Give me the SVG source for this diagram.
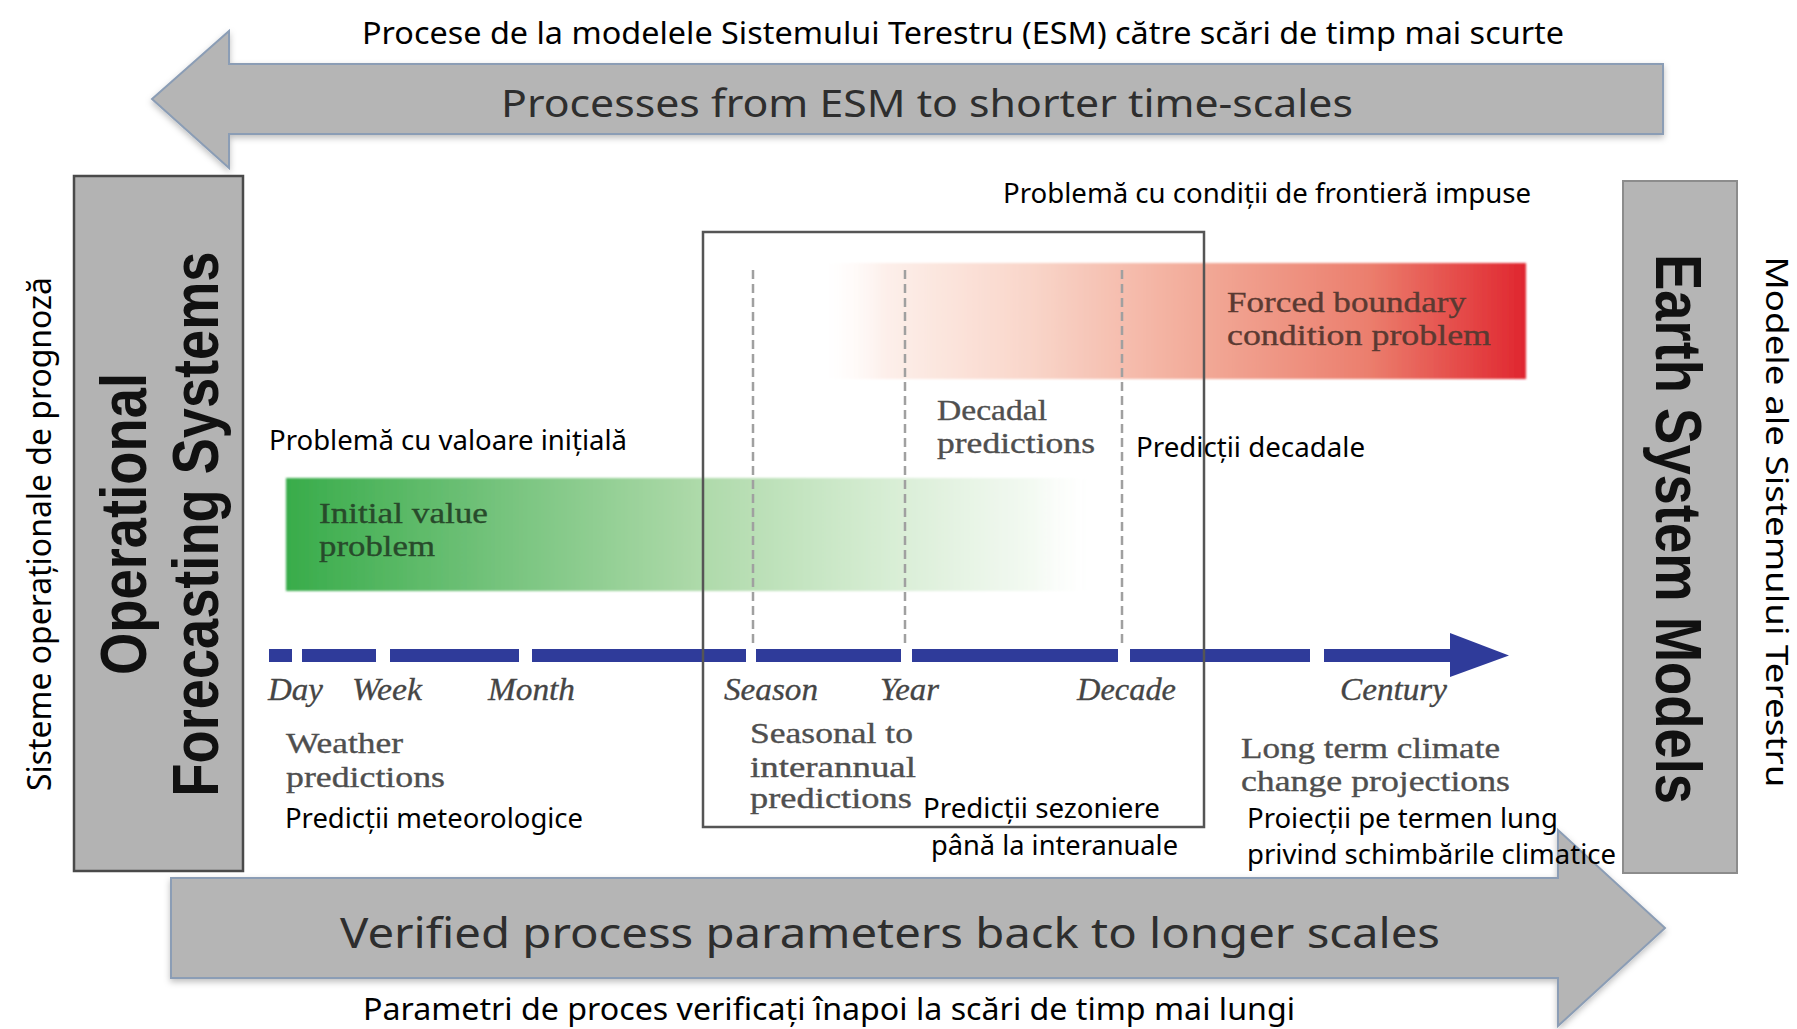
<svg xmlns="http://www.w3.org/2000/svg" width="1797" height="1029" viewBox="0 0 1797 1029">
<defs>
<style>
.ro{font-family:"Noto Sans","Open Sans",sans-serif;fill:#000;}
.en{font-family:"Liberation Serif","Times New Roman",serif;font-size:30px;fill:#4f4f4f;stroke:#4f4f4f;stroke-width:0.35;}
.it{font-family:"Liberation Serif","Times New Roman",serif;font-size:31px;font-style:italic;fill:#454545;stroke:#454545;stroke-width:0.3;}
.big{font-family:"Noto Sans","Open Sans",sans-serif;fill:#2e2e2e;}
.title{font-family:"Liberation Sans Narrow","Liberation Sans",Arial,sans-serif;font-weight:bold;font-size:64px;fill:#111;}
.seg{fill:#2f3b9a;}
.dash{stroke:#a0a0a0;stroke-width:2.5;stroke-dasharray:9 5;fill:none;}
.garrow{fill:#b5b5b5;stroke:#8b9db5;stroke-width:2;}
</style>
<linearGradient id="gGreen" gradientUnits="userSpaceOnUse" x1="286" y1="0" x2="1100" y2="0">
<stop offset="0" stop-color="#38ac4a"/>
<stop offset="0.25" stop-color="#72c27a"/>
<stop offset="0.5" stop-color="#acd9a8"/>
<stop offset="0.75" stop-color="#d9eed6"/>
<stop offset="0.92" stop-color="#f4faf3"/>
<stop offset="1" stop-color="#ffffff" stop-opacity="0"/>
</linearGradient>
<linearGradient id="gRed" gradientUnits="userSpaceOnUse" x1="815" y1="0" x2="1526" y2="0">
<stop offset="0" stop-color="#ffffff" stop-opacity="0"/>
<stop offset="0.1" stop-color="#fdefea"/>
<stop offset="0.3" stop-color="#f9d6ca"/>
<stop offset="0.55" stop-color="#f2a896"/>
<stop offset="0.78" stop-color="#eb7e6d"/>
<stop offset="1" stop-color="#e0262f"/>
</linearGradient>
<filter id="shadow" x="-5%" y="-20%" width="110%" height="150%">
<feDropShadow dx="0" dy="3" stdDeviation="3" flood-color="#000" flood-opacity="0.25"/>
</filter>
<filter id="soft" x="-2%" y="-5%" width="104%" height="110%">
<feGaussianBlur stdDeviation="1.2"/>
</filter>
</defs>
<rect x="0" y="0" width="1797" height="1029" fill="#fff"/>

<g id="connectors">
<polygon id="arrow-top" class="garrow" filter="url(#shadow)" points="152,99 229,31 229,64 1663,64 1663,134 229,134 229,168"/>
<polygon id="arrow-bottom" class="garrow" filter="url(#shadow)" points="171,878 1558,878 1558,830 1665,928 1558,1026 1558,978 171,978"/>
<g id="timeline">
<rect class="seg" x="269" y="649" width="23" height="13"/>
<rect class="seg" x="302" y="649" width="74" height="13"/>
<rect class="seg" x="390" y="649" width="129" height="13"/>
<rect class="seg" x="532" y="649" width="214" height="13"/>
<rect class="seg" x="756" y="649" width="145" height="13"/>
<rect class="seg" x="912" y="649" width="206" height="13"/>
<rect class="seg" x="1130" y="649" width="180" height="13"/>
<rect class="seg" x="1324" y="649" width="130" height="13"/>
<polygon class="seg" points="1450,633 1509,655.5 1450,677"/>
</g>
</g>

<g id="arrow-top-label">
<text class="big" x="501" y="117" font-size="38" textLength="852" lengthAdjust="spacingAndGlyphs">Processes from ESM to shorter time-scales</text>
</g>
<g id="arrow-bottom-label">
<text class="big" x="340" y="948" font-size="42" textLength="1100" lengthAdjust="spacingAndGlyphs">Verified process parameters back to longer scales</text>
</g>

<g id="left-box">
<rect x="74" y="176" width="169" height="695" fill="#b3b3b3" stroke="#4a4a4a" stroke-width="2.5"/>
<text class="title" transform="translate(146,524) rotate(-90)" text-anchor="middle" textLength="302" lengthAdjust="spacingAndGlyphs">Operational</text>
<text class="title" transform="translate(218,524) rotate(-90)" text-anchor="middle" textLength="545" lengthAdjust="spacingAndGlyphs">Forecasting Systems</text>
</g>

<g id="right-box">
<rect x="1623" y="181" width="114" height="692" fill="#b5b5b5" stroke="#8c8c8c" stroke-width="2"/>
<text class="title" transform="translate(1656,529) rotate(90)" text-anchor="middle" textLength="550" lengthAdjust="spacingAndGlyphs">Earth System Models</text>
</g>

<g id="red-bar">
<rect x="815" y="263" width="711" height="116" fill="url(#gRed)" filter="url(#soft)"/>
<text class="en" x="1227" y="312" style="fill:#5b3a32;stroke:#5b3a32" textLength="239" lengthAdjust="spacingAndGlyphs">Forced boundary</text>
<text class="en" x="1227" y="345" style="fill:#5b3a32;stroke:#5b3a32" textLength="264" lengthAdjust="spacingAndGlyphs">condition problem</text>
</g>

<g id="green-bar">
<rect x="286" y="478" width="814" height="113" fill="url(#gGreen)" filter="url(#soft)"/>
<text class="en" x="319" y="523" style="fill:#284a2b;stroke:#284a2b" textLength="169" lengthAdjust="spacingAndGlyphs">Initial value</text>
<text class="en" x="319" y="556" style="fill:#284a2b;stroke:#284a2b" textLength="116" lengthAdjust="spacingAndGlyphs">problem</text>
</g>

<g id="dashed-lines">
<line class="dash" x1="753" y1="270" x2="753" y2="648"/>
<line class="dash" x1="905" y1="270" x2="905" y2="648"/>
<line class="dash" x1="1122" y1="270" x2="1122" y2="648"/>
</g>

<g id="center-box">
<rect x="703" y="232" width="501" height="595" fill="none" stroke="#555" stroke-width="2.5"/>
</g>

<g id="scale-labels">
<text class="it" x="268" y="700" textLength="55" lengthAdjust="spacingAndGlyphs">Day</text>
<text class="it" x="352" y="700" textLength="70" lengthAdjust="spacingAndGlyphs">Week</text>
<text class="it" x="488" y="700" textLength="87" lengthAdjust="spacingAndGlyphs">Month</text>
<text class="it" x="724" y="700" textLength="94" lengthAdjust="spacingAndGlyphs">Season</text>
<text class="it" x="880" y="700" textLength="59" lengthAdjust="spacingAndGlyphs">Year</text>
<text class="it" x="1077" y="700" textLength="99" lengthAdjust="spacingAndGlyphs">Decade</text>
<text class="it" x="1340" y="700" textLength="107" lengthAdjust="spacingAndGlyphs">Century</text>
</g>

<g id="weather-predictions">
<text class="en" x="286" y="753" textLength="117" lengthAdjust="spacingAndGlyphs">Weather</text>
<text class="en" x="286" y="787" textLength="159" lengthAdjust="spacingAndGlyphs">predictions</text>
<text class="ro" x="285" y="828" font-size="28" textLength="298" lengthAdjust="spacingAndGlyphs">Predicții meteorologice</text>
</g>

<g id="seasonal-predictions">
<text class="en" x="750" y="743" textLength="163" lengthAdjust="spacingAndGlyphs">Seasonal to</text>
<text class="en" x="750" y="777" textLength="166" lengthAdjust="spacingAndGlyphs">interannual</text>
<text class="en" x="750" y="808" textLength="162" lengthAdjust="spacingAndGlyphs">predictions</text>
<text class="ro" x="923" y="818" font-size="28" textLength="237" lengthAdjust="spacingAndGlyphs">Predicții sezoniere</text>
<text class="ro" x="931" y="855" font-size="28" textLength="247" lengthAdjust="spacingAndGlyphs">până la interanuale</text>
</g>

<g id="decadal-predictions">
<text class="en" x="937" y="420" textLength="110" lengthAdjust="spacingAndGlyphs">Decadal</text>
<text class="en" x="937" y="453" textLength="158" lengthAdjust="spacingAndGlyphs">predictions</text>
<text class="ro" x="1136" y="457" font-size="28" textLength="229" lengthAdjust="spacingAndGlyphs">Predicții decadale</text>
</g>

<g id="climate-projections">
<text class="en" x="1241" y="758" textLength="259" lengthAdjust="spacingAndGlyphs">Long term climate</text>
<text class="en" x="1241" y="791" textLength="269" lengthAdjust="spacingAndGlyphs">change projections</text>
<text class="ro" x="1247" y="828" font-size="27" textLength="311" lengthAdjust="spacingAndGlyphs">Proiecții pe termen lung</text>
<text class="ro" x="1247" y="864" font-size="27" textLength="369" lengthAdjust="spacingAndGlyphs">privind schimbările climatice</text>
</g>

<g id="romanian-labels">
<text class="ro" x="362" y="44" font-size="31" textLength="1202" lengthAdjust="spacingAndGlyphs">Procese de la modelele Sistemului Terestru (ESM) către scări de timp mai scurte</text>
<text class="ro" x="1003" y="203" font-size="28" textLength="528" lengthAdjust="spacingAndGlyphs">Problemă cu condiții de frontieră impuse</text>
<text class="ro" x="269" y="450" font-size="28" textLength="358" lengthAdjust="spacingAndGlyphs">Problemă cu valoare inițială</text>
<text class="ro" x="363" y="1020" font-size="31" textLength="932" lengthAdjust="spacingAndGlyphs">Parametri de proces verificați înapoi la scări de timp mai lungi</text>
<text class="ro" transform="translate(51,534) rotate(-90)" text-anchor="middle" font-size="32" textLength="514" lengthAdjust="spacingAndGlyphs">Sisteme operaționale de prognoză</text>
<text class="ro" transform="translate(1766,522) rotate(90)" text-anchor="middle" font-size="31" textLength="531" lengthAdjust="spacingAndGlyphs">Modele ale Sistemului Terestru</text>
</g>
</svg>
